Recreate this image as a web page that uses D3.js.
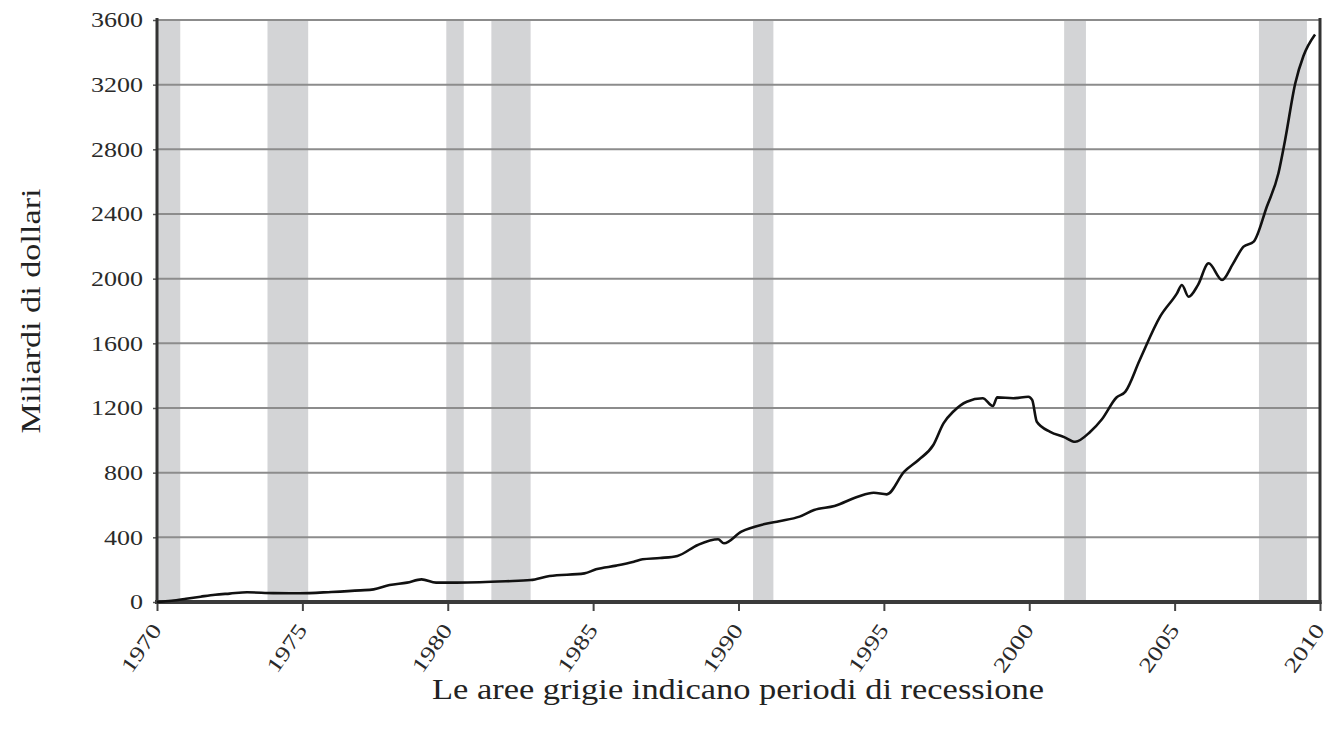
<!DOCTYPE html>
<html>
<head>
<meta charset="utf-8">
<script src="https://cdn.jsdelivr.net/npm/d3@7"></script>
<style>
  html, body { margin: 0; padding: 0; background: #fff; }
  svg { display: block; }
</style>
</head>
<body>
<svg id="chart" width="1340" height="733"></svg>
<script>
// ---- data ----
const years = [1970.0, 1970.5, 1971.0, 1971.5, 1972.0, 1972.5, 1973.1, 1974.0, 1974.9, 1976.0,
  1977.0, 1977.45, 1978.0, 1978.6, 1979.1, 1979.6, 1980.3, 1981.1, 1982.0, 1982.85,
  1983.5, 1984.7, 1985.1, 1985.8, 1986.4, 1986.7, 1987.3, 1987.9, 1988.6, 1989.3,
  1989.5, 1990.1, 1990.9, 1991.4, 1992.1, 1992.6, 1993.3, 1994.1, 1994.65, 1995.1,
  1995.7, 1996.2, 1996.7, 1997.05, 1997.4, 1997.85, 1998.4, 1998.75, 1998.9, 1999.45,
  1999.97, 2000.1, 2000.26, 2000.72, 2001.2, 2001.58, 2002.1, 2002.5, 2003.0, 2003.3,
  2003.8, 2004.5, 2005.08, 2005.25, 2005.48, 2005.8, 2006.17, 2006.63, 2007.0, 2007.37,
  2007.72, 2008.17, 2008.57, 2008.8, 2009.15, 2009.43, 2009.83];
const values = [0, 8, 20, 33, 45, 52, 60, 55, 54, 62,
  72, 78, 105, 120, 140, 120, 120, 122, 128, 136,
  161, 177, 202, 225, 249, 264, 272, 285, 353, 388,
  363, 435, 482, 500, 528, 569, 594, 651, 676, 666,
  806, 880, 971, 1105, 1180, 1239, 1260, 1212, 1266, 1260,
  1270, 1250, 1115, 1053, 1020, 991, 1053, 1130, 1265, 1300,
  1497, 1765, 1909, 1961, 1888, 1960, 2095, 1992, 2090, 2198,
  2229, 2445, 2652, 2858, 3209, 3377, 3510];
const recessionStart = [1970.0, 1973.8, 1979.95, 1981.5, 1990.5, 2001.2, 2007.9];
const recessionEnd   = [1970.8, 1975.2, 1980.55, 1982.85, 1991.2, 2001.95, 2009.55];
const xTickLabels = ["1970", "1975", "1980", "1985", "1990", "1995", "2000", "2005", "2010"];
const yTickLabels = ["0", "400", "800", "1200", "1600", "2000", "2400", "2800", "3200", "3600"];
const yTitle = "Miliardi di dollari";
const xTitle = "Le aree grigie indicano periodi di recessione";

const FONT = "'Liberation Serif', Tinos, 'Times New Roman', Times, serif";

// ---- layout ----
const svg = d3.select("#chart");
const L = 157, R = 1320, T = 20, B = 602;
const x = d3.scaleLinear().domain([1970, 2010]).range([L, R]);
const y = d3.scaleLinear().domain([0, 3600]).range([B, T]);

// recession bands
svg.append("g").selectAll("rect")
  .data(recessionStart.map((s, i) => [s, recessionEnd[i]]))
  .join("rect")
  .attr("x", d => x(d[0]))
  .attr("width", d => x(d[1]) - x(d[0]))
  .attr("y", T)
  .attr("height", B - T)
  .attr("fill", "#d3d4d6");

// gridlines
svg.append("g").selectAll("line")
  .data(yTickLabels.map(Number).filter(v => v > 0))
  .join("line")
  .attr("x1", L).attr("x2", R)
  .attr("y1", d => y(d)).attr("y2", d => y(d))
  .attr("stroke", "#8c8c8c").attr("stroke-width", 2);

// y axis
const yAxis = d3.axisLeft(y).tickValues(yTickLabels.map(Number)).tickSize(4).tickPadding(10)
  .tickFormat(d => String(d));
const gy = svg.append("g").attr("transform", `translate(${L},0)`).call(yAxis);
gy.attr("font-family", FONT);
gy.select(".domain").remove();
gy.selectAll(".tick line").attr("stroke", "#555").attr("stroke-width", 1.5);
gy.selectAll(".tick text")
  .style("font-family", FONT)
  .attr("font-size", 21)
  .attr("fill", "#2a2a2a")
  .attr("textLength", d => String(d).length * 13)
  .attr("lengthAdjust", "spacingAndGlyphs");

// x axis
const xAxis = d3.axisBottom(x).tickValues(xTickLabels.map(Number)).tickSize(9).tickFormat(d => String(d));
const gx = svg.append("g").attr("transform", `translate(0,${B})`).call(xAxis);
gx.attr("font-family", FONT);
gx.select(".domain").remove();
gx.selectAll(".tick line").attr("stroke", "#444").attr("stroke-width", 2);
gx.selectAll(".tick text")
  .style("font-family", FONT)
  .attr("font-size", 21)
  .attr("fill", "#2a2a2a")
  .attr("text-anchor", "end")
  .attr("dy", null)
  .attr("y", 0)
  .attr("transform", "translate(5,28) rotate(-55)")
  .attr("textLength", 54)
  .attr("lengthAdjust", "spacingAndGlyphs");

// frame lines
svg.append("line").attr("x1", L).attr("x2", L).attr("y1", T - 2).attr("y2", B + 2)
  .attr("stroke", "#333").attr("stroke-width", 3);
svg.append("line").attr("x1", R).attr("x2", R).attr("y1", T - 2).attr("y2", B + 2)
  .attr("stroke", "#333").attr("stroke-width", 3);
svg.append("line").attr("x1", L - 2).attr("x2", R + 1.5).attr("y1", B).attr("y2", B)
  .attr("stroke", "#3a3a3a").attr("stroke-width", 4);

// data line
const line = d3.line()
  .x((d, i) => x(years[i]))
  .y(d => y(d))
  .curve(d3.curveMonotoneX);
svg.append("path")
  .datum(values)
  .attr("d", line)
  .attr("fill", "none")
  .attr("stroke", "#111")
  .attr("stroke-width", 2.6)
  .attr("stroke-linejoin", "round");

// titles
svg.append("text")
  .style("font-family", FONT)
  .attr("fill", "#222")
  .attr("transform", `translate(40,${(T + B) / 2}) rotate(-90)`)
  .attr("text-anchor", "middle")
  .attr("font-size", 28)
  .attr("textLength", 245)
  .attr("lengthAdjust", "spacingAndGlyphs")
  .text(yTitle);

svg.append("text")
  .style("font-family", FONT)
  .attr("fill", "#222")
  .attr("x", 738)
  .attr("y", 699)
  .attr("text-anchor", "middle")
  .attr("font-size", 29)
  .attr("textLength", 612)
  .attr("lengthAdjust", "spacingAndGlyphs")
  .text(xTitle);
</script>
</body>
</html>
